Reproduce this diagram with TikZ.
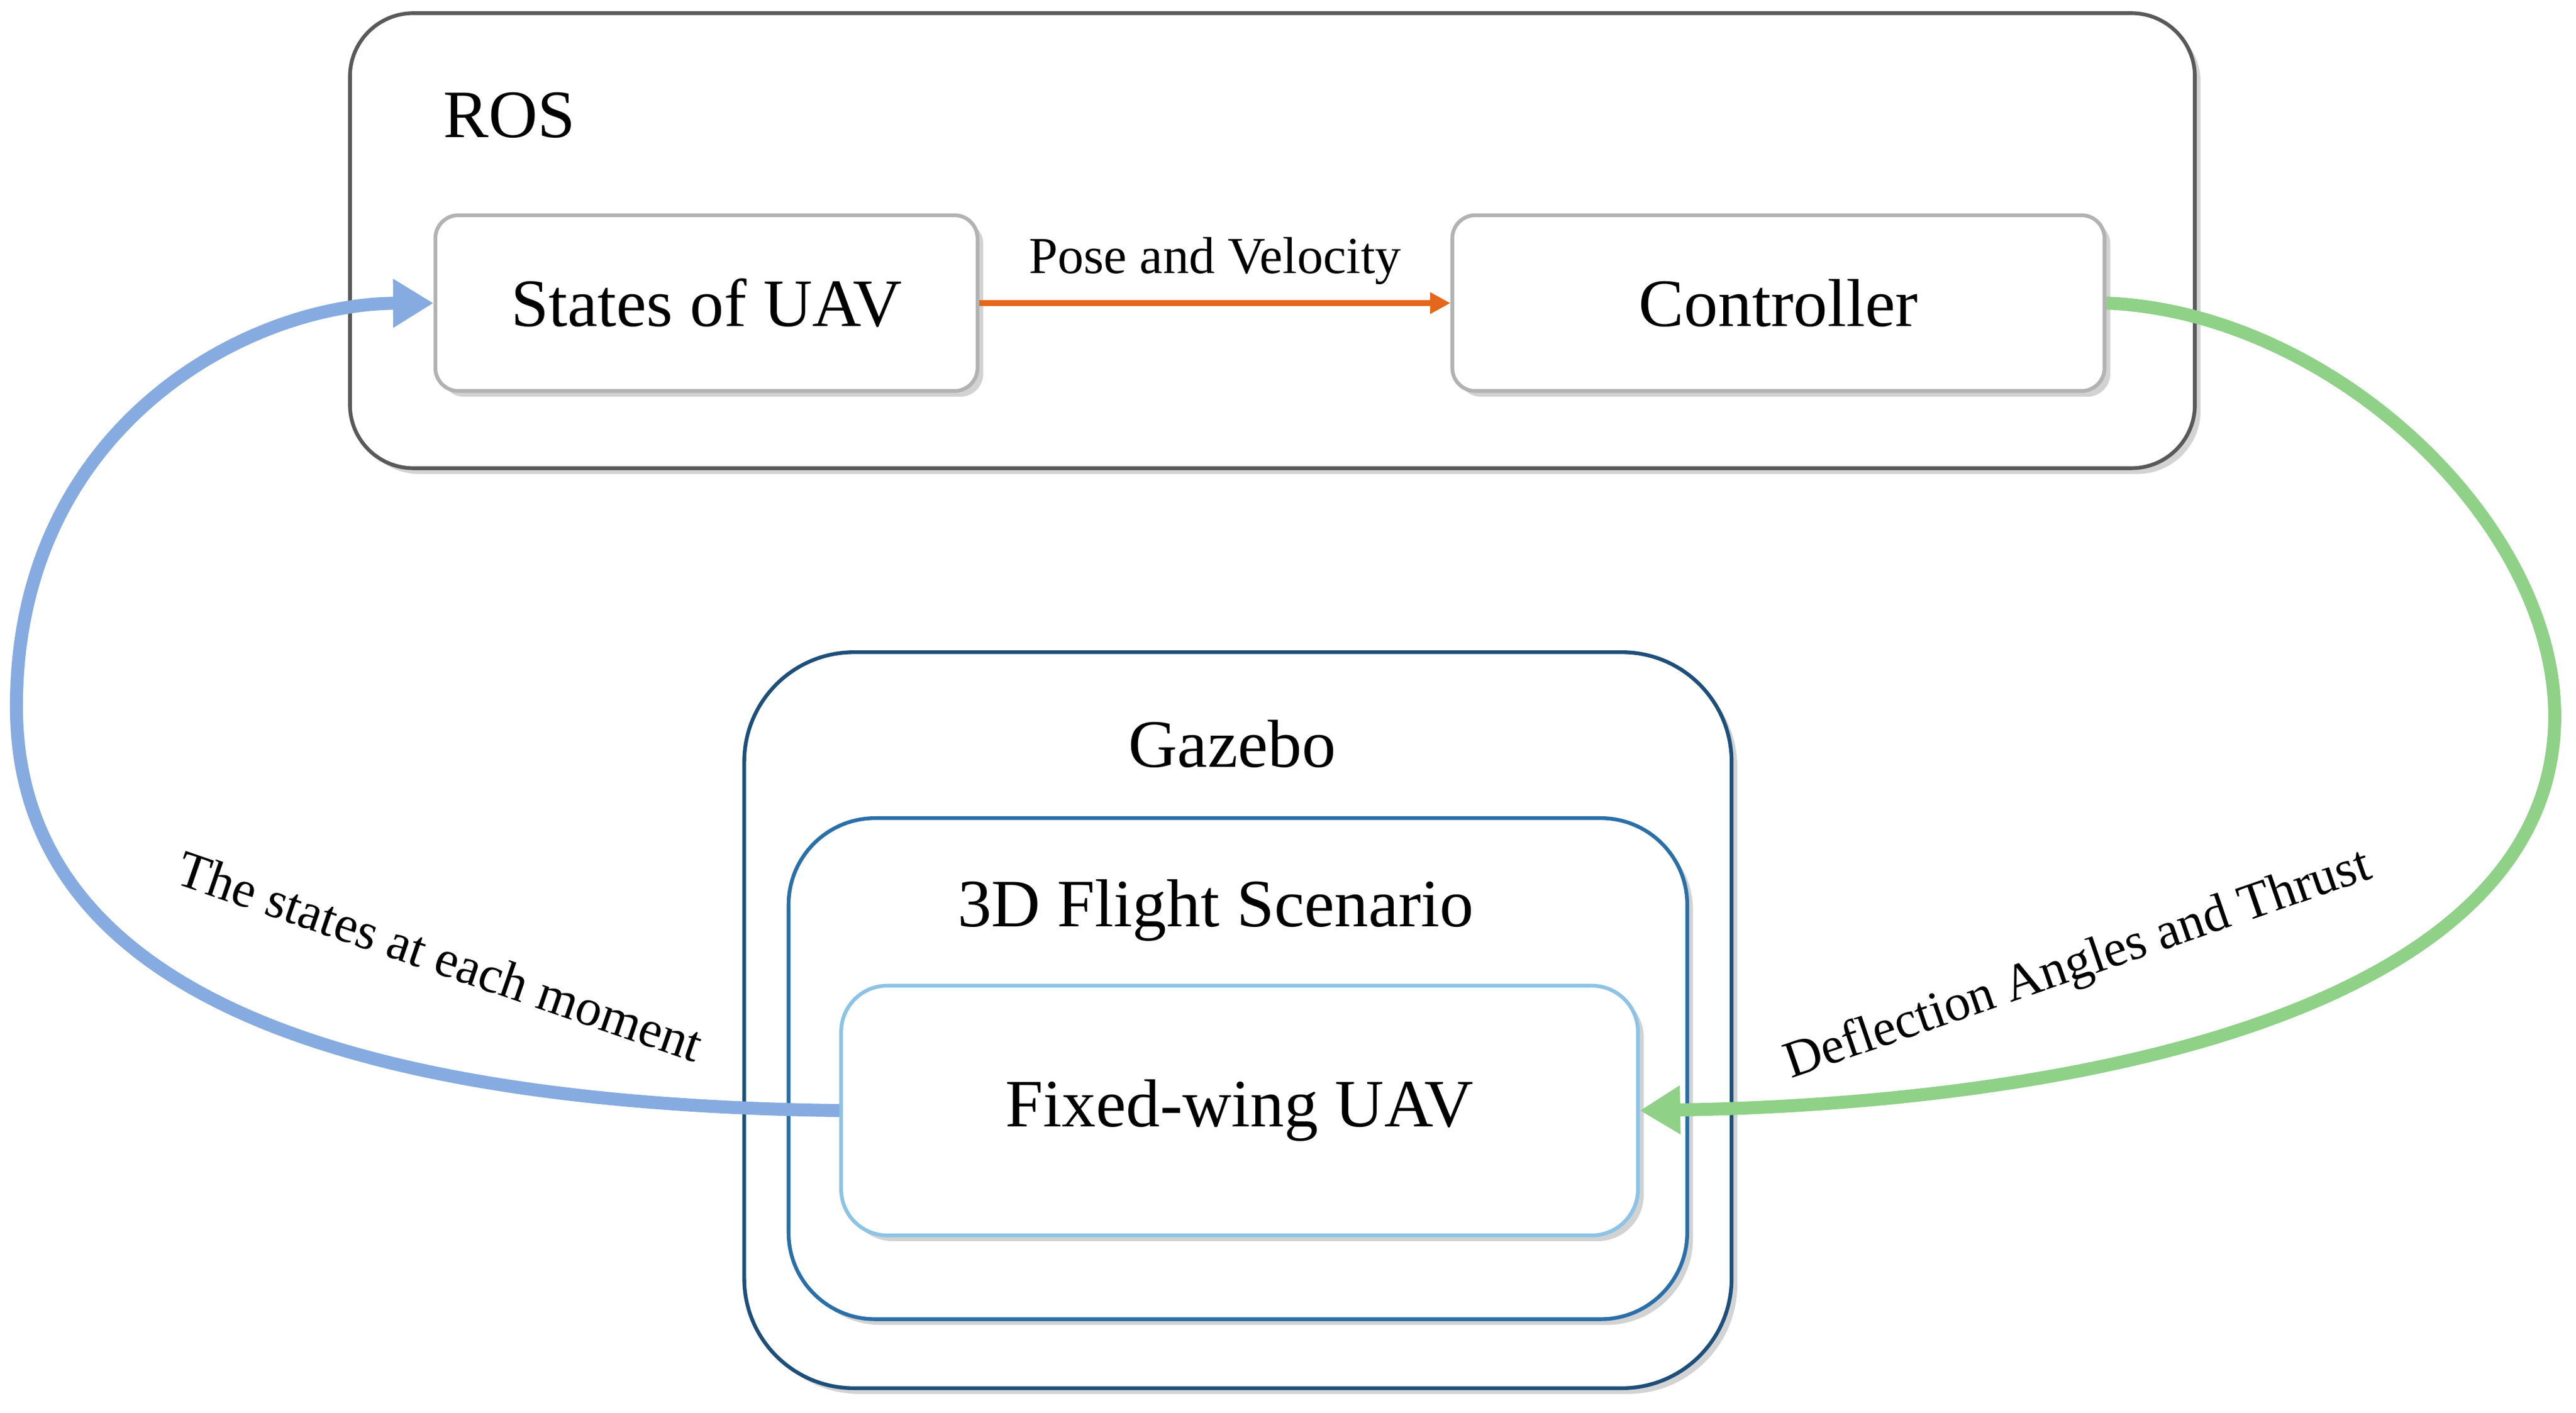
\documentclass[tikz,border=0pt]{standalone}
\usepackage{fontspec}
\setmainfont{Liberation Serif}
\usetikzlibrary{arrows.meta,shadows}
\definecolor{bluearr}{HTML}{86ABE0}
\definecolor{greenarr}{HTML}{8ED187}
\definecolor{orangearr}{HTML}{E5671B}
\definecolor{gzb}{HTML}{1D4F7A}
\definecolor{scn}{HTML}{2A6FA8}
\definecolor{fw}{HTML}{8CC3E6}
\tikzset{
 box/.style={draw=#1,line width=1.3pt,fill=white,drop shadow={opacity=0.35,shadow xshift=2pt,shadow yshift=-2pt},inner sep=0pt},
 lbl/.style={font=\fontsize{23.5}{27}\selectfont},
 small/.style={font=\fontsize{18}{21}\selectfont},
 fat/.style={line width=4.5pt,-{Triangle[length=14pt,width=16pt]}},
}
\begin{document}
\begin{tikzpicture}[x=0.02cm,y=-0.02cm]
\useasboundingbox (0,0) rectangle (1568,860);
\node[box=gray!70!black,rounded corners=22pt,minimum width=1123*0.02cm,minimum height=277*0.02cm] (ros) at (774.5,146.5) {};
\node[lbl] (roslbl) at (310,70) {ROS};
\node[box=gray!60,rounded corners=8pt,minimum width=330*0.02cm,minimum height=107*0.02cm,lbl] (st) at (430,184.5) {States of UAV};
\node[box=gray!60,rounded corners=8pt,minimum width=397*0.02cm,minimum height=107*0.02cm,lbl] (ct) at (1082.5,184.5) {Controller};
\draw[orangearr,line width=2.2pt,-{Triangle[length=7pt,width=7pt]}] (st.east) -- node[above,black,small,yshift=2pt] {Pose and Velocity} (ct.west);
\node[box=gzb,rounded corners=38pt,minimum width=601*0.02cm,minimum height=448*0.02cm] (gz) at (753.5,621) {};
\node[lbl] (gzl) at (750,453) {Gazebo};
\node[box=scn,rounded corners=30pt,minimum width=547*0.02cm,minimum height=305*0.02cm] (sc) at (753.5,650.5) {};
\node[lbl] (scl) at (740,554) {3D Flight Scenario};
\node[box=fw,rounded corners=16pt,minimum width=485*0.02cm,minimum height=152*0.02cm,lbl] (fw) at (754.5,676) {Fixed-wing UAV};
\draw[bluearr,fat] (fw.west) .. controls (200,672) and (10,600) .. (10,430) .. controls (10,260) and (150,185) .. (st.west);
\draw[greenarr,fat] (ct.east) .. controls (1420,190) and (1558,320) .. (1555,440) .. controls (1550,620) and (1250,672) .. (fw.east);
\node[small,rotate=-19] (bl) at (268,582) {The states at each moment};
\node[small,rotate=19] (gl) at (1265,588) {Deflection Angles and Thrust};
\end{tikzpicture}
\end{document}
